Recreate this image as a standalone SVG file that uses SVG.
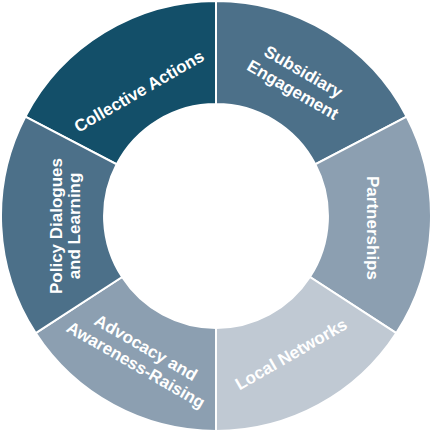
<svg xmlns="http://www.w3.org/2000/svg" width="433" height="433" viewBox="0 0 433 433">
<style>
.seg{stroke:#ffffff;stroke-width:2;stroke-linejoin:miter}
.lbl{font-family:"Liberation Sans",Arial,sans-serif;font-weight:bold;font-size:17px;fill:#ffffff;text-anchor:middle}
</style>
<rect width="433" height="433" fill="#ffffff"/>
<g id="collective-actions">
<path class="seg" fill="#134f69" d="M25.3,116.7 A215,215 0 0 1 216,1 L216,104 A112,112 0 0 0 116.7,164.3 Z"/>
<text class="lbl" transform="translate(139,91) rotate(-30)" y="6">Collective Actions</text>
</g>
<g id="subsidiary-engagement">
<path class="seg" fill="#4c7089" d="M216,1 A215,215 0 0 1 406.7,116.7 L315.3,164.3 A112,112 0 0 0 216,104 Z"/>
<text class="lbl" transform="translate(298,81) rotate(30)"><tspan x="0" y="-5">Subsidiary</tspan><tspan x="0" y="16">Engagement</tspan></text>
</g>
<g id="partnerships">
<path class="seg" fill="#8c9fb1" d="M406.7,116.7 A215,215 0 0 1 396.3,333.1 L309.9,277 A112,112 0 0 0 315.3,164.3 Z"/>
<text class="lbl" transform="translate(373,228) rotate(90)" y="6">Partnerships</text>
</g>
<g id="local-networks">
<path class="seg" fill="#c0c9d3" d="M396.3,333.1 A215,215 0 0 1 216,431 L216,328 A112,112 0 0 0 309.9,277 Z"/>
<text class="lbl" transform="translate(291,354) rotate(-30)" y="6">Local Networks</text>
</g>
<g id="advocacy-awareness">
<path class="seg" fill="#8c9fb1" d="M216,431 A215,215 0 0 1 35.7,333.1 L122.1,277 A112,112 0 0 0 216,328 Z"/>
<text class="lbl" transform="translate(141,356) rotate(30)"><tspan x="0" y="-4">Advocacy and</tspan><tspan x="0" y="16">Awareness-Raising</tspan></text>
</g>
<g id="policy-dialogues">
<path class="seg" fill="#4c7089" d="M35.7,333.1 A215,215 0 0 1 25.3,116.7 L116.7,164.3 A112,112 0 0 0 122.1,277 Z"/>
<text class="lbl" transform="translate(65,226) rotate(-90)"><tspan x="0" y="-3">Policy Dialogues</tspan><tspan x="0" y="15">and Learning</tspan></text>
</g>
<g id="connectors"/>
</svg>
